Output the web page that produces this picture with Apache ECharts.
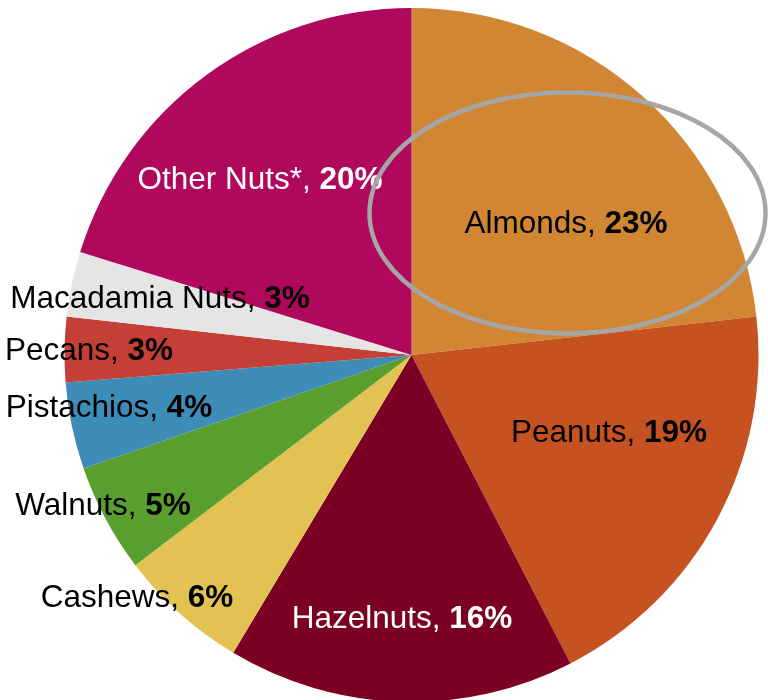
<!DOCTYPE html>
<html>
<head>
<meta charset="utf-8">
<script src="https://cdn.jsdelivr.net/npm/echarts@6/dist/echarts.min.js"></script>
<style>
  html, body { margin: 0; padding: 0; background: #ffffff; }
  #chart { width: 768px; height: 700px; }
</style>
</head>
<body>
<div id="chart"></div>
<script>
// Nut varieties, clockwise from 12 o'clock, with their share in percent
const categories = ['Almonds', 'Peanuts', 'Hazelnuts', 'Cashews', 'Walnuts',
                    'Pistachios', 'Pecans', 'Macadamia Nuts', 'Other Nuts*'];
const shares = [23, 19, 16, 6, 5, 4, 3, 3, 20];

// Slice fills and label colours
const sliceColors = ['#d18633', '#c55220', '#7b0024', '#e2c252', '#5a9e30',
                     '#3e8cb8', '#c43f35', '#e5e5e5', '#b0085c'];
const labelColors = ['#000', '#000', '#fff', '#000', '#000',
                     '#000', '#000', '#000', '#fff'];

// Label centres (px)
const labelPos = [
  [566, 224], [609, 433], [402, 619], [137, 598], [103, 506],
  [109, 408], [89, 351], [160, 299], [260, 180]
];

const chart = echarts.init(document.getElementById('chart'), null, { renderer: 'canvas' });

const FONT = '"Liberation Sans", Arial, sans-serif';

chart.setOption({
  animation: false,
  backgroundColor: '#ffffff',
  series: [{
    type: 'pie',
    center: [411.5, 355],
    radius: [0, 347],
    startAngle: 90,
    clockwise: true,
    avoidLabelOverlap: false,
    itemStyle: { borderWidth: 0 },
    emphasis: { disabled: true },
    labelLine: { show: false },
    data: categories.map((name, i) => ({
      name: name,
      value: shares[i],
      itemStyle: { color: sliceColors[i] },
      label: {
        rich: {
          n: { fontFamily: FONT, fontSize: 31.5, color: labelColors[i] },
          p: { fontFamily: FONT, fontSize: 31.5, fontWeight: 'bold', color: labelColors[i] }
        }
      }
    })),
    label: {
      show: true,
      position: 'inside',
      formatter: p => '{n|' + p.name + ', }{p|' + p.value + '%}'
    },
    labelLayout: params => ({
      x: labelPos[params.dataIndex][0],
      y: labelPos[params.dataIndex][1],
      align: 'center',
      verticalAlign: 'middle'
    })
  }],
  graphic: [{
    type: 'ellipse',
    z: 100,
    shape: { cx: 567.5, cy: 213, rx: 198, ry: 120.5 },
    style: { fill: 'none', stroke: '#a6a6a6', lineWidth: 4.5 }
  }]
});
</script>
</body>
</html>
